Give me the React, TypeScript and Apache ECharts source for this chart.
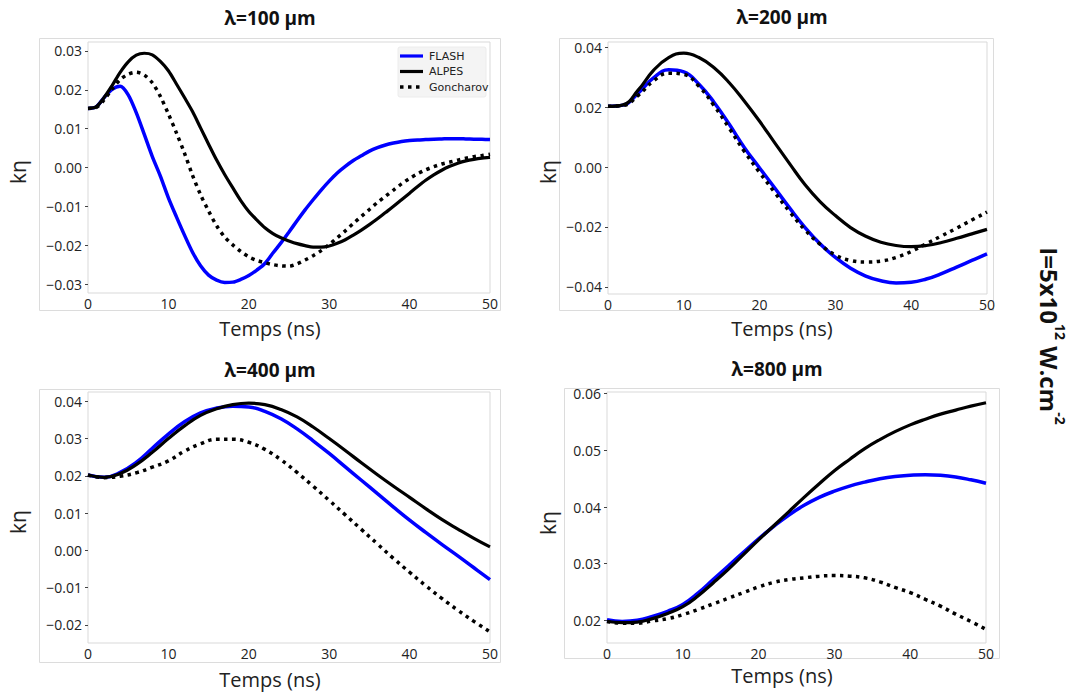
import React, { useEffect, useRef } from "react";
import * as echarts from "echarts";

// time samples (ns)
const TIMES_FINE = [0, 1, 2, 3, 4, 5, 6, 7, 8, 9, 10, 11, 12, 13, 14, 15, 16, 17, 18, 19, 20, 21, 22, 23, 24, 25, 26, 27, 28, 29, 30, 31, 32, 33, 34, 35, 36, 37, 38, 39, 40, 41, 42, 43, 44, 45, 46, 47, 48, 49, 50];
const TIMES = [0, 2, 4, 6, 8, 10, 12, 14, 16, 18, 20, 22, 24, 26, 28, 30, 32, 34, 36, 38, 40, 42, 44, 46, 48, 50];

// k·eta values, in units of 1e-3
// λ = 100 µm (on TIMES_FINE)
const L100_FLASH = [15.2, 15.6, 18.0, 20.1, 20.9, 18.7, 14.1, 8.5, 2.8, -2.2, -7.8, -12.7, -17.4, -21.8, -25.3, -27.7, -29.0, -29.6, -29.5, -28.8, -27.8, -26.4, -24.7, -22.0, -19.4, -16.6, -13.7, -10.9, -8.3, -5.8, -3.5, -1.4, 0.3, 1.8, 3.0, 4.2, 5.1, 5.8, 6.3, 6.7, 6.95, 7.1, 7.2, 7.3, 7.35, 7.4, 7.4, 7.35, 7.3, 7.25, 7.2];
const L100_ALPES = [15.2, 15.6, 18.0, 21.1, 24.5, 27.2, 28.9, 29.4, 29.0, 27.3, 24.9, 21.5, 18.0, 14.4, 10.2, 6.0, 1.9, -1.8, -5.2, -8.5, -11.3, -13.5, -15.5, -17.0, -18.1, -18.9, -19.6, -20.1, -20.5, -20.5, -20.2, -19.5, -18.6, -17.4, -16.1, -14.7, -13.2, -11.6, -10.0, -8.3, -6.6, -4.9, -3.3, -1.9, -0.7, 0.3, 1.1, 1.7, 2.1, 2.4, 2.6];
const L100_GONCHAROV = [15.2, 15.4, 17.4, 20.2, 22.6, 24.0, 24.5, 23.8, 21.8, 18.3, 13.8, 8.9, 3.7, -2.0, -7.0, -11.2, -15.0, -17.9, -19.9, -21.6, -23.0, -23.9, -24.5, -25.0, -25.3, -25.4, -24.8, -23.8, -22.7, -21.4, -19.8, -18.1, -16.3, -14.4, -12.6, -10.8, -9.0, -7.4, -5.8, -4.2, -2.8, -1.6, -0.6, 0.2, 0.9, 1.4, 1.9, 2.4, 2.8, 3.1, 3.4];

// λ = 200 µm (on TIMES)
const L200_FLASH = [20.3, 20.7, 24.8, 29.8, 32.5, 31.8, 27.7, 21.6, 14.3, 6.5, -0.3, -7.0, -13.8, -20.2, -25.7, -30.2, -33.8, -36.4, -38.0, -38.7, -38.5, -37.4, -35.6, -33.4, -31.2, -29.0];
const L200_ALPES = [20.3, 20.8, 25.8, 32.3, 36.6, 38.1, 36.6, 33.2, 28.2, 22.0, 15.3, 8.1, 1.0, -5.9, -11.6, -16.2, -20.2, -23.1, -25.1, -26.2, -26.6, -26.2, -25.2, -23.8, -22.3, -20.8];
const L200_GONCHAROV = [20.3, 20.6, 24.0, 28.8, 31.4, 31.0, 27.0, 20.5, 13.0, 5.2, -1.8, -8.5, -15.0, -21.0, -25.8, -29.4, -31.2, -31.7, -31.4, -30.2, -28.2, -25.6, -23.0, -20.4, -17.7, -15.0];

// λ = 400 µm (on TIMES)
const L400_FLASH = [20.2, 19.6, 20.9, 23.6, 27.4, 31.2, 34.5, 36.9, 38.2, 38.7, 38.5, 37.3, 35.3, 32.6, 29.4, 26.0, 22.4, 18.8, 15.2, 11.6, 8.1, 4.8, 1.6, -1.5, -4.7, -7.9];
const L400_ALPES = [20.2, 19.6, 20.6, 23.0, 26.3, 30.0, 33.4, 36.2, 38.0, 39.1, 39.5, 39.1, 37.8, 35.8, 33.1, 30.0, 26.8, 23.5, 20.3, 17.2, 14.2, 11.2, 8.3, 5.7, 3.2, 0.9];
const L400_GONCHAROV = [20.2, 19.5, 19.9, 20.8, 22.3, 24.0, 26.6, 28.6, 29.8, 29.8, 29.0, 27.1, 24.3, 20.9, 17.2, 13.4, 9.5, 5.6, 1.7, -2.2, -5.9, -9.5, -12.9, -16.1, -19.1, -21.9];

// λ = 800 µm (on TIMES)
const L800_FLASH = [20.1, 19.8, 20.0, 20.7, 21.6, 22.8, 24.8, 27.2, 29.6, 32.0, 34.4, 36.6, 38.6, 40.3, 41.7, 42.8, 43.7, 44.4, 45.0, 45.4, 45.6, 45.7, 45.6, 45.3, 44.8, 44.2];
const L800_ALPES = [19.8, 19.6, 19.7, 20.3, 21.2, 22.4, 24.3, 26.6, 29.0, 31.6, 34.2, 36.7, 39.2, 41.7, 44.1, 46.4, 48.4, 50.3, 51.9, 53.3, 54.5, 55.5, 56.4, 57.1, 57.8, 58.4];
const L800_GONCHAROV = [19.8, 19.5, 19.5, 19.9, 20.3, 21.0, 21.9, 22.9, 23.9, 24.9, 25.9, 26.7, 27.2, 27.5, 27.8, 27.9, 27.8, 27.5, 26.8, 25.8, 24.9, 23.7, 22.5, 21.1, 19.8, 18.4];

const X_TICKS = [0, 10, 20, 30, 40, 50];
const Y_TICKS_100 = [-0.03, -0.02, -0.01, 0, 0.01, 0.02, 0.03];
const Y_TICKS_200 = [-0.04, -0.02, 0, 0.02, 0.04];
const Y_TICKS_400 = [-0.02, -0.01, 0, 0.01, 0.02, 0.03, 0.04];
const Y_TICKS_800 = [0.02, 0.03, 0.04, 0.05, 0.06];

const TITLES = ["λ=100 µm", "λ=200 µm", "λ=400 µm", "λ=800 µm"];
const SERIES_NAMES = ["FLASH", "ALPES", "Goncharov"];

const DATA = [
  [L100_FLASH, L100_ALPES, L100_GONCHAROV],
  [L200_FLASH, L200_ALPES, L200_GONCHAROV],
  [L400_FLASH, L400_ALPES, L400_GONCHAROV],
  [L800_FLASH, L800_ALPES, L800_GONCHAROV],
];
const PANEL_TIMES = [TIMES_FINE, TIMES, TIMES, TIMES];
const Y_TICKS = [Y_TICKS_100, Y_TICKS_200, Y_TICKS_400, Y_TICKS_800];

// layout (pixels)
const LAYOUT = [
  { l: 88, r: 490, t: 42, b: 293, yMin: -0.0323, yMax: 0.0323, title: [270, 18], xName: [270, 328], yName: [18, 172], frame: [39, 38, 500, 310] },
  { l: 608, r: 987, t: 42, b: 294, yMin: -0.0424, yMax: 0.0418, title: [782, 17], xName: [782, 328], yName: [548, 172], frame: [559, 38, 993, 310] },
  { l: 88, r: 490, t: 392, b: 643, yMin: -0.0249, yMax: 0.0425, title: [270, 370], xName: [270, 679], yName: [18, 522], frame: [39, 389, 500, 662] },
  { l: 607, r: 986, t: 392, b: 643, yMin: 0.016, yMax: 0.0603, title: [777, 369], xName: [782, 675], yName: [548, 523], frame: [564, 388, 999, 658] },
];

const COLORS = ["#0000ff", "#000000", "#000000"];
const DOT_DASH = [3.5, 4.5];

const fmt = (v: number) => v.toFixed(2).replace("-", "\u2212");

export default function App() {
  const ref = useRef<HTMLDivElement>(null);
  useEffect(() => {
    if (!ref.current) return;
    const chart = echarts.init(ref.current, null, { renderer: "svg" });
    const tickFont = { fontSize: 14, color: "#222", fontFamily: "Open Sans" };

    const grids = LAYOUT.map((p) => ({
      left: p.l,
      top: p.t,
      width: p.r - p.l,
      height: p.b - p.t,
      show: true,
      borderColor: "#d9d9d9",
      borderWidth: 1,
      backgroundColor: "transparent",
    }));
    const xAxes = LAYOUT.map((_, i) => ({
      type: "value",
      gridIndex: i,
      min: 0,
      max: 50,
      interval: 10,
      axisLine: { show: false, onZero: false },
      axisTick: { show: false },
      axisLabel: { ...tickFont, margin: 3, customValues: X_TICKS, formatter: (v: number) => String(v) },
      splitLine: { show: false },
    }));
    const yAxes = LAYOUT.map((p, i) => ({
      type: "value",
      gridIndex: i,
      min: p.yMin,
      max: p.yMax,
      axisLine: { show: false, onZero: false },
      axisTick: { show: true, length: 3, lineStyle: { color: "#444" }, customValues: Y_TICKS[i] },
      axisLabel: { ...tickFont, margin: 6, customValues: Y_TICKS[i], formatter: (v: number) => fmt(v) },
      splitLine: { show: false },
    }));

    const series: any[] = [];
    DATA.forEach((panel, i) => {
      const times = PANEL_TIMES[i];
      panel.forEach((vals, k) => {
        series.push({
          type: "line",
          name: SERIES_NAMES[k],
          xAxisIndex: i,
          yAxisIndex: i,
          data: times.map((t, j) => [t, vals[j] / 1000]),
          symbol: "none",
          showSymbol: false,
          smooth: i === 0 ? 0.3 : 0.45,
          clip: true,
          itemStyle: { color: COLORS[k] },
          lineStyle:
            k === 2
              ? { color: COLORS[k], width: 3.5, type: DOT_DASH, cap: "butt" }
              : { color: COLORS[k], width: k === 0 ? 3.5 : 3.2 },
          z: 2 + k,
        });
      });
    });

    const graphics: any[] = [];
    LAYOUT.forEach((p, i) => {
      const [x1, y1, x2, y2] = p.frame;
      graphics.push({
        type: "rect",
        shape: { x: x1 + 0.5, y: y1 + 0.5, width: x2 - x1, height: y2 - y1 },
        style: { fill: "none", stroke: "#dcdcdc", lineWidth: 1 },
        silent: true,
      });
      graphics.push({
        type: "text",
        x: p.title[0],
        y: p.title[1],
        style: { text: TITLES[i], fontSize: 19, fontWeight: "bold", fontFamily: "Open Sans", fill: "#111", align: "center", verticalAlign: "middle" },
      });
      graphics.push({
        type: "text",
        x: p.xName[0],
        y: p.xName[1],
        style: { text: "Temps (ns)", fontSize: 20, fontFamily: "Open Sans", fill: "#222", align: "center", verticalAlign: "middle" },
      });
      graphics.push({
        type: "text",
        x: p.yName[0],
        y: p.yName[1],
        rotation: Math.PI / 2,
        style: { text: "kη", fontSize: 21, fontFamily: "Open Sans", fill: "#222", align: "center", verticalAlign: "middle" },
      });
    });

    // legend (drawn in the first panel)
    const legendX = 398;
    const legendY = 47;
    graphics.push({
      type: "rect",
      shape: { x: legendX, y: legendY, width: 88, height: 50, r: 2 },
      style: { fill: "#f4f4f4", stroke: "#ececec", lineWidth: 1 },
      silent: true,
      z: 10,
    });
    SERIES_NAMES.forEach((name, k) => {
      const cy = legendY + 9 + k * 15.5;
      graphics.push({
        type: "line",
        shape: { x1: legendX + 2, y1: cy, x2: legendX + 25, y2: cy },
        style: k === 2
          ? { stroke: COLORS[k], lineWidth: 3.5, lineDash: DOT_DASH, lineCap: "butt" }
          : { stroke: COLORS[k], lineWidth: 3.2 },
        z: 11,
      });
      graphics.push({
        type: "text",
        x: legendX + 31,
        y: cy,
        style: { text: name, fontSize: 11, fontFamily: "DejaVu Sans", fill: "#222", align: "left", verticalAlign: "middle" },
        z: 11,
      });
    });

    graphics.push({
      type: "text",
      x: 1052,
      y: 336,
      rotation: -Math.PI / 2,
      style: {
        text: "{b|I=5x10}{s|12}{b| W.cm}{s|-2}",
        align: "center",
        verticalAlign: "middle",
        rich: {
          b: { fontSize: 24, fontWeight: "bold", fontFamily: "Open Sans", fill: "#111", lineHeight: 30, verticalAlign: "bottom" },
          s: { fontSize: 14, fontWeight: "bold", fontFamily: "Open Sans", fill: "#111", lineHeight: 16, verticalAlign: "top" },
        },
      },
    });

    chart.setOption({
      animation: false,
      backgroundColor: "#ffffff",
      grid: grids,
      xAxis: xAxes,
      yAxis: yAxes,
      series,
      graphic: graphics,
    });
    return () => chart.dispose();
  }, []);
  return <div ref={ref} style={{ position: "absolute", left: 0, top: 0, width: 1075, height: 695 }} />;
}
